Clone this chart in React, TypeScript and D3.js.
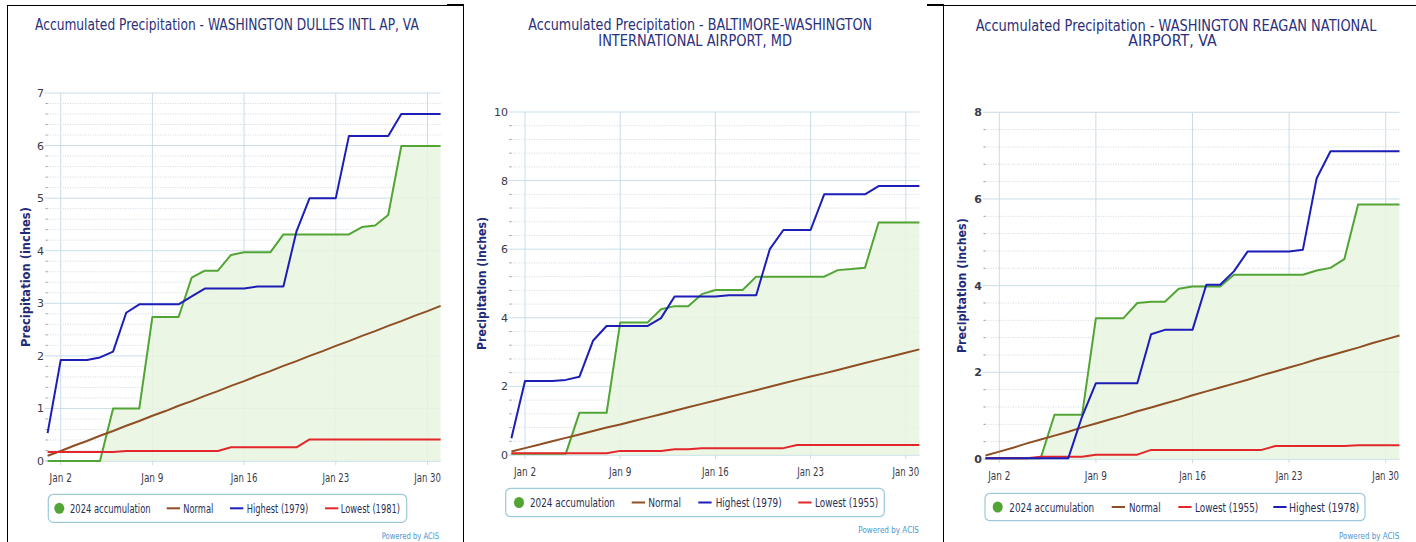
import React, { useLayoutEffect, useRef, useState } from "react";
import * as d3 from "d3";

// ---------- data ----------
const days = [1, 2, 3, 4, 5, 6, 7, 8, 9, 10, 11, 12, 13, 14, 15, 16, 17, 18, 19, 20, 21, 22, 23, 24, 25, 26, 27, 28, 29, 30, 31];
const xTickDays = [2, 9, 16, 23, 30];
const xTickLabels = ["Jan 2", "Jan 9", "Jan 16", "Jan 23", "Jan 30"];

// Washington Dulles
const iadTitle = ["Accumulated Precipitation - WASHINGTON DULLES INTL AP, VA"];
const iadAccum = [0, 0, 0, 0, 0, 1.0, 1.0, 1.0, 2.74, 2.74, 2.74, 3.49, 3.62, 3.62, 3.92, 3.97, 3.97, 3.97, 4.31, 4.31, 4.31, 4.31, 4.31, 4.31, 4.45, 4.48, 4.68, 5.99, 5.99, 5.99, 5.99];
const iadNormal = [0.10, 0.19, 0.29, 0.38, 0.48, 0.57, 0.67, 0.76, 0.86, 0.95, 1.05, 1.14, 1.24, 1.33, 1.43, 1.52, 1.62, 1.71, 1.81, 1.90, 2.00, 2.09, 2.19, 2.28, 2.38, 2.47, 2.57, 2.66, 2.76, 2.85, 2.95];
const iadHighest = [0.53, 1.92, 1.92, 1.92, 1.97, 2.08, 2.82, 2.98, 2.98, 2.98, 2.98, 3.13, 3.28, 3.28, 3.28, 3.28, 3.32, 3.32, 3.32, 4.37, 5.0, 5.0, 5.0, 6.18, 6.18, 6.18, 6.18, 6.6, 6.6, 6.6, 6.6];
const iadLowest = [0.17, 0.17, 0.17, 0.17, 0.17, 0.17, 0.19, 0.19, 0.19, 0.19, 0.19, 0.19, 0.19, 0.19, 0.26, 0.26, 0.26, 0.26, 0.26, 0.26, 0.41, 0.41, 0.41, 0.41, 0.41, 0.41, 0.41, 0.41, 0.41, 0.41, 0.41];
const iadYTicks = [0, 1, 2, 3, 4, 5, 6, 7];
const iadLegend = ["2024 accumulation", "Normal", "Highest (1979)", "Lowest (1981)"];

// Baltimore-Washington
const bwiTitle = ["Accumulated Precipitation - BALTIMORE-WASHINGTON", "INTERNATIONAL AIRPORT, MD"];
const bwiAccum = [0.04, 0.04, 0.04, 0.04, 0.04, 1.23, 1.23, 1.23, 3.86, 3.86, 3.86, 4.25, 4.34, 4.34, 4.69, 4.81, 4.81, 4.81, 5.2, 5.2, 5.2, 5.2, 5.2, 5.2, 5.39, 5.42, 5.46, 6.78, 6.78, 6.78, 6.78];
const bwiNormal = [0.10, 0.20, 0.30, 0.40, 0.50, 0.60, 0.70, 0.80, 0.89, 0.99, 1.09, 1.19, 1.29, 1.39, 1.49, 1.59, 1.69, 1.79, 1.89, 1.99, 2.09, 2.19, 2.29, 2.38, 2.48, 2.58, 2.68, 2.78, 2.88, 2.98, 3.08];
const bwiHighest = [0.49, 2.16, 2.16, 2.16, 2.19, 2.28, 3.33, 3.76, 3.76, 3.76, 3.76, 3.99, 4.62, 4.62, 4.62, 4.62, 4.66, 4.66, 4.66, 6.0, 6.56, 6.56, 6.56, 7.6, 7.6, 7.6, 7.6, 7.84, 7.84, 7.84, 7.84];
const bwiLowest = [0.05, 0.05, 0.05, 0.05, 0.05, 0.05, 0.05, 0.05, 0.12, 0.12, 0.12, 0.12, 0.17, 0.17, 0.2, 0.2, 0.2, 0.2, 0.2, 0.2, 0.2, 0.29, 0.29, 0.29, 0.29, 0.29, 0.29, 0.29, 0.29, 0.29, 0.29];
const bwiYTicks = [0, 2, 4, 6, 8, 10];
const bwiLegend = ["2024 accumulation", "Normal", "Highest (1979)", "Lowest (1955)"];

// Washington Reagan
const dcaTitle = ["Accumulated Precipitation - WASHINGTON REAGAN NATIONAL", "AIRPORT, VA"];
const dcaAccum = [0.02, 0.02, 0.02, 0.02, 0.02, 1.02, 1.02, 1.02, 3.25, 3.25, 3.25, 3.6, 3.63, 3.63, 3.93, 3.98, 3.98, 3.98, 4.25, 4.25, 4.25, 4.25, 4.25, 4.25, 4.35, 4.41, 4.61, 5.87, 5.87, 5.87, 5.87];
const dcaNormal = [0.08, 0.17, 0.26, 0.36, 0.45, 0.54, 0.63, 0.73, 0.82, 0.91, 1.00, 1.10, 1.19, 1.28, 1.37, 1.47, 1.56, 1.65, 1.74, 1.83, 1.93, 2.02, 2.11, 2.20, 2.30, 2.39, 2.48, 2.57, 2.67, 2.76, 2.85];
const dcaLowest = [0.02, 0.02, 0.02, 0.02, 0.05, 0.05, 0.05, 0.05, 0.1, 0.1, 0.1, 0.1, 0.21, 0.21, 0.21, 0.21, 0.21, 0.21, 0.21, 0.21, 0.21, 0.3, 0.3, 0.3, 0.3, 0.3, 0.3, 0.32, 0.32, 0.32, 0.32];
const dcaHighest = [0.02, 0.02, 0.02, 0.02, 0.02, 0.02, 0.02, 0.98, 1.75, 1.75, 1.75, 1.75, 2.88, 2.98, 2.98, 2.98, 4.02, 4.02, 4.33, 4.79, 4.79, 4.79, 4.79, 4.83, 6.48, 7.1, 7.1, 7.1, 7.1, 7.1, 7.1];
const dcaYTicks = [0, 2, 4, 6, 8];
const dcaLegend = ["2024 accumulation", "Normal", "Lowest (1955)", "Highest (1978)"];

// ---------- styles ----------
const FONT = "'DejaVu Sans', 'Lucida Grande', Verdana, sans-serif";
const C_GREEN = "#52a535";
const C_FILL = "#e9f5e1";
const C_NORMAL = "#8f4e23";
const C_HIGH = "#1d1db8";
const C_LOW = "#e3262b";
const C_GRID = "#c9dde8";
const C_MINOR = "#cfd9e2";
const C_TITLE = "#2a307a";
const C_AXIS_TITLE = "#1f2a78";
const C_LABEL = "#3a3a4a";

// text squeezed horizontally to a measured width
function FitText({
  x, y, w, anchor = "start", rotate = 0, dy, children, ...rest
}: any) {
  const ref = useRef<SVGTextElement>(null);
  const [k, setK] = useState(1);
  useLayoutEffect(() => {
    if (ref.current) {
      const n = ref.current.getComputedTextLength();
      if (n > 0) setK(w / n);
    }
  }, [w, children]);
  const rot = rotate ? ` rotate(${rotate})` : "";
  return (
    <text
      ref={ref}
      transform={`translate(${x},${y})${rot} scale(${k},1)`}
      textAnchor={anchor}
      dy={dy}
      {...rest}
    >
      {children}
    </text>
  );
}

type Cfg = {
  title: string[];
  titleLines: { x: number; w: number; y: number }[];
  accum: number[];
  normal: number[];
  highest: number[];
  lowest: number[];
  yTicks: number[];
  minorStep: number;
  yMax: number;
  x0: number; x1: number; y0: number; yTop: number;
  yTitleX: number; yTitleLen: number;
  boldY?: boolean;
  legendNames: string[];
  legendColors: string[];
  legendBox: [number, number, number, number];
  legendItems: { sx: number; tx: number; tw: number }[];
  powered: { x: number; w: number; y: number };
};

const panels: Cfg[] = [
  {
    title: iadTitle,
    titleLines: [{ x: 35, w: 384, y: 29.5 }],
    accum: iadAccum, normal: iadNormal, highest: iadHighest, lowest: iadLowest,
    yTicks: iadYTicks, minorStep: 0.2, yMax: 7,
    x0: 47.6, x1: 440.6, y0: 461, yTop: 93,
    yTitleX: 26, yTitleLen: 140,
    legendNames: iadLegend,
    legendColors: [C_GREEN, C_NORMAL, C_HIGH, C_LOW],
    legendBox: [48.3, 494.3, 358.4, 28],
    legendItems: [
      { sx: 59.3, tx: 70, tw: 80.7 },
      { sx: 166.7, tx: 183.3, tw: 30 },
      { sx: 230, tx: 246.7, tw: 61.7 },
      { sx: 325, tx: 340.7, tw: 59.3 },
    ],
    powered: { x: 381.7, w: 57.6, y: 539 },
  },
  {
    title: bwiTitle,
    titleLines: [{ x: 528.3, w: 344, y: 30 }, { x: 598.3, w: 194, y: 45.5 }],
    accum: bwiAccum, normal: bwiNormal, highest: bwiHighest, lowest: bwiLowest,
    yTicks: bwiYTicks, minorStep: 0.4, yMax: 10,
    x0: 511.4, x1: 919.4, y0: 455, yTop: 112,
    yTitleX: 482, yTitleLen: 133,
    legendNames: bwiLegend,
    legendColors: [C_GREEN, C_NORMAL, C_HIGH, C_LOW],
    legendBox: [505.7, 488.3, 378.6, 28.4],
    legendItems: [
      { sx: 519, tx: 530, tw: 85 },
      { sx: 631.7, tx: 648.3, tw: 32.7 },
      { sx: 698.3, tx: 715.7, tw: 66 },
      { sx: 798.3, tx: 815, tw: 63.3 },
    ],
    powered: { x: 858.3, w: 60.7, y: 532.5 },
  },
  {
    title: dcaTitle,
    titleLines: [{ x: 975.7, w: 401, y: 30.5 }, { x: 1128.3, w: 88.4, y: 46 }],
    accum: dcaAccum, normal: dcaNormal, highest: dcaHighest, lowest: dcaLowest,
    yTicks: dcaYTicks, minorStep: 0.4, yMax: 8,
    x0: 985.5, x1: 1399.5, y0: 459, yTop: 112.3,
    yTitleX: 962, yTitleLen: 135, boldY: true,
    legendNames: dcaLegend,
    legendColors: [C_GREEN, C_NORMAL, C_LOW, C_HIGH],
    legendBox: [985, 493.3, 380, 27.4],
    legendItems: [
      { sx: 997.7, tx: 1009.3, tw: 85 },
      { sx: 1111.7, tx: 1129, tw: 31.7 },
      { sx: 1178.3, tx: 1195, tw: 63.3 },
      { sx: 1273.3, tx: 1289, tw: 70.3 },
    ],
    powered: { x: 1339, w: 60.3, y: 538.5 },
  },
];

function Panel({ cfg }: { cfg: Cfg }) {
  const x = d3.scaleLinear().domain([days[0], days[days.length - 1]]).range([cfg.x0, cfg.x1]);
  const y = d3.scaleLinear().domain([0, cfg.yMax]).range([cfg.y0, cfg.yTop]);
  const lineGen = d3
    .line<number>()
    .x((_, i) => x(days[i]))
    .y((v) => y(v));
  const areaGen = d3
    .area<number>()
    .x((_, i) => x(days[i]))
    .y0(y(0))
    .y1((v) => y(v));
  const minors = d3
    .range(0, cfg.yMax + 1e-9, cfg.minorStep)
    .filter((v) => !cfg.yTicks.some((t) => Math.abs(t - v) < 1e-6));
  const midY = (cfg.y0 + cfg.yTop) / 2;
  const [bx, by, bw, bh] = cfg.legendBox;
  const ly = by + bh / 2;

  return (
    <g>
      {/* title */}
      {cfg.title.map((t, i) => (
        <FitText
          key={i}
          x={cfg.titleLines[i].x}
          y={cfg.titleLines[i].y}
          w={cfg.titleLines[i].w}
          fontFamily={FONT}
          fontSize={15.5}
          fill={C_TITLE}
        >
          {t}
        </FitText>
      ))}

      {/* minor gridlines */}
      {minors.map((v, i) => (
        <g key={"mn" + i}>
          <line x1={cfg.x0} x2={cfg.x1} y1={y(v)} y2={y(v)} stroke={C_MINOR} strokeWidth={1} strokeDasharray="1,1.5" />
          <line x1={cfg.x0 - 2} x2={cfg.x0} y1={y(v)} y2={y(v)} stroke="#8d97a5" strokeWidth={1} />
        </g>
      ))}
      {/* major gridlines */}
      {cfg.yTicks.map((v) => (
        <line key={"mj" + v} x1={cfg.x0 - 3} x2={cfg.x1} y1={y(v)} y2={y(v)} stroke={v === 0 ? "#a9cfdd" : C_GRID} strokeWidth={1} />
      ))}
      {xTickDays.map((d) => (
        <line key={"vx" + d} x1={x(d)} x2={x(d)} y1={cfg.yTop} y2={cfg.y0 + 4} stroke={C_GRID} strokeWidth={1} />
      ))}

      {/* area + lines */}
      <path d={areaGen(cfg.accum) || ""} fill={C_FILL} fillOpacity={0.85} />
      <path d={lineGen(cfg.accum) || ""} fill="none" stroke={C_GREEN} strokeWidth={2} strokeLinejoin="round" />
      <path d={lineGen(cfg.normal) || ""} fill="none" stroke={C_NORMAL} strokeWidth={2} />
      <path d={lineGen(cfg.lowest) || ""} fill="none" stroke={C_LOW} strokeWidth={2} strokeLinejoin="round" />
      <path d={lineGen(cfg.highest) || ""} fill="none" stroke={C_HIGH} strokeWidth={2} strokeLinejoin="round" />

      {/* y tick labels */}
      {cfg.yTicks.map((v) => (
        <text
          key={"yl" + v}
          x={cfg.x0 - 3.5}
          y={y(v)}
          dy="0.36em"
          textAnchor="end"
          fontFamily={FONT}
          fontSize={11}
          fontWeight={cfg.boldY ? "bold" : "normal"}
          fill={C_LABEL}
        >
          {v}
        </text>
      ))}
      {/* x tick labels */}
      {xTickDays.map((d, i) => (
        <FitText
          key={"xl" + d}
          x={x(d)}
          y={cfg.y0 + 20.5}
          w={xTickLabels[i].length * 4.45}
          anchor="middle"
          fontFamily={FONT}
          fontSize={11.5}
          fill={C_LABEL}
        >
          {xTickLabels[i]}
        </FitText>
      ))}
      {/* y axis title */}
      <FitText
        x={cfg.yTitleX}
        y={midY}
        rotate={-90}
        w={cfg.yTitleLen}
        anchor="middle"
        dy="0.36em"
        fontFamily={FONT}
        fontSize={11.5}
        fontWeight="bold"
        fill={C_AXIS_TITLE}
      >
        Precipitation (inches)
      </FitText>

      {/* legend */}
      <rect x={bx} y={by} width={bw} height={bh} rx={5} ry={5} fill="#ffffff" stroke="#9ccad9" strokeWidth={1.2} />
      {cfg.legendItems.map((it, i) => (
        <g key={"lg" + i}>
          {i === 0 ? (
            <ellipse cx={it.sx} cy={ly} rx={5} ry={5.5} fill={cfg.legendColors[i]} />
          ) : (
            <line x1={it.sx} x2={it.sx + 13.3} y1={ly} y2={ly} stroke={cfg.legendColors[i]} strokeWidth={2} />
          )}
          <FitText
            x={it.tx}
            y={ly}
            w={it.tw}
            dy="0.36em"
            fontFamily={FONT}
            fontSize={12.5}
            fill="#2a2f55"
          >
            {cfg.legendNames[i]}
          </FitText>
        </g>
      ))}

      {/* credit */}
      <FitText
        x={cfg.powered.x}
        y={cfg.powered.y}
        w={cfg.powered.w}
        fontFamily={FONT}
        fontSize={9}
        fill="#4d97cf"
      >
        Powered by ACIS
      </FitText>
    </g>
  );
}

export default function App() {
  return (
    <div style={{ position: "absolute", left: 0, top: 0 }}>
      <svg width={1416} height={542} style={{ display: "block", background: "#ffffff" }}>
        <rect x={0} y={0} width={1416} height={542} fill="#ffffff" />
        {panels.map((p, i) => (
          <Panel key={i} cfg={p} />
        ))}
        {/* frame lines */}
        <g stroke="#000" fill="none">
          <line x1={7.5} x2={7.5} y1={5} y2={542} strokeWidth={1} />
          <line x1={463.5} x2={463.5} y1={5} y2={542} strokeWidth={1} />
          <line x1={943.5} x2={943.5} y1={5} y2={542} strokeWidth={1} />
          <line x1={7} x2={464} y1={5.5} y2={5.5} strokeWidth={1} />
          <line x1={943} x2={1416} y1={5.5} y2={5.5} strokeWidth={1} />
          <line x1={447} x2={464} y1={5} y2={5} strokeWidth={2} />
          <line x1={927} x2={944} y1={5} y2={5} strokeWidth={2} />
        </g>
      </svg>
    </div>
  );
}
